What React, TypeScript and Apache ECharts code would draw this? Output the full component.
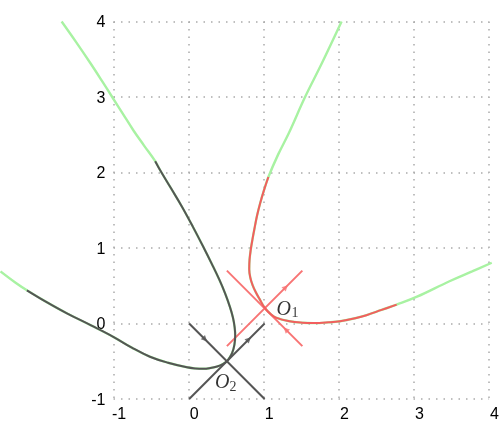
import React, { useEffect, useRef } from "react";
import * as echarts from "echarts";

// Axis ticks
const xTicks = [-1, 0, 1, 2, 3, 4];
const yTicks = [-1, 0, 1, 2, 3, 4];
// Full horizontal extent reached by the curves (left page edge)
const xCurveMin = -2.5;

// Curve through O2 (dark) with light-green continuation tails
const o2UpperTail: number[][] = [
  [-1.69, 4.0], [-1.5, 3.73], [-1.31, 3.45], [-1.16, 3.22], [-1.02, 3.0], [-0.88, 2.78],
  [-0.74, 2.56], [-0.6, 2.36], [-0.45, 2.15],
];
const o2Curve: number[][] = [
  [-0.45, 2.15], [-0.384, 2.03], [-0.24, 1.79], [-0.097, 1.55], [0.05, 1.28], [0.19, 1.01],
  [0.3, 0.79], [0.4, 0.58], [0.48, 0.39], [0.54, 0.22], [0.58, 0.08], [0.603, -0.05],
  [0.61, -0.16], [0.6, -0.28], [0.57, -0.39], [0.53, -0.46], [0.5, -0.5], [0.44, -0.54],
  [0.37, -0.57], [0.28, -0.59], [0.19, -0.6], [0.08, -0.595], [-0.03, -0.58], [-0.28, -0.52],
  [-0.52, -0.44], [-0.76, -0.32], [-1.0, -0.18], [-1.3, -0.025], [-1.62, 0.135],
  [-1.9, 0.29], [-2.15, 0.44],
];
const o2LowerTail: number[][] = [[-2.15, 0.44], [-2.3, 0.54], [-2.5, 0.69]];

// Curve through O1 (red) with light-green continuation tails
const o1UpperTail: number[][] = [
  [2.02, 4.0], [1.76, 3.45], [1.536, 3.0], [1.32, 2.52], [1.18, 2.24], [1.05, 1.94],
];
const o1Curve: number[][] = [
  [1.05, 1.94], [0.99, 1.76], [0.94, 1.59], [0.9, 1.43], [0.87, 1.28], [0.84, 1.12],
  [0.815, 0.97], [0.8, 0.84], [0.796, 0.72], [0.81, 0.61], [0.84, 0.51], [0.88, 0.42],
  [0.935, 0.32], [1.0, 0.21], [1.08, 0.125], [1.15, 0.078], [1.33, 0.03], [1.5, 0.01],
  [1.65, 0.005], [1.85, 0.015], [2.0, 0.03], [2.2, 0.07], [2.35, 0.11], [2.55, 0.18],
  [2.75, 0.25],
];
const o1LowerTail: number[][] = [[2.75, 0.25], [3.02, 0.355], [3.45, 0.56], [3.75, 0.69], [4.01, 0.805]];

// Saddle points and their manifold crosses
const O1 = [1, 0.2];
const O2 = [0.5, -0.5];
const o1CrossA: number[][] = [[0.5, -0.3], [1.5, 0.7]];
const o1CrossB: number[][] = [[0.5, 0.7], [1.5, -0.3]];
const o2CrossA: number[][] = [[0, 0], [1, -1]];
const o2CrossB: number[][] = [[0, -1], [1, 0]];

// Arrow markers on the crosses: [x, y, rotation]
const o2Arrows: number[][] = [[0.21, -0.21, -135], [0.79, -0.21, -45]];
const o1Arrows: number[][] = [[1.28, 0.48, -45], [1.28, -0.08, 45]];

const GREEN = "#a8f2a2";
const RED = "#f25e5e";
const RED_LIGHT = "#f87474";
const GRAY = "#555555";

export default function App() {
  const ref = useRef<HTMLDivElement>(null);
  useEffect(() => {
    if (!ref.current) return;
    const chart = echarts.init(ref.current, undefined, { renderer: "svg" });
    const onCurveAxes = { xAxisIndex: 1, yAxisIndex: 1 };
    const lineBase = (data: number[][], color: string, width: number, z: number) => ({
      type: "line",
      ...onCurveAxes,
      data,
      smooth: 0.4,
      showSymbol: false,
      symbol: "none",
      clip: false,
      z,
      lineStyle: { color, width },
      silent: true,
    });
    const straight = (data: number[][], color: string) => ({
      type: "line",
      ...onCurveAxes,
      data,
      showSymbol: false,
      symbol: "none",
      clip: false,
      z: 5,
      lineStyle: { color, width: 2 },
      silent: true,
    });
    const serif = "'Liberation Serif', 'DejaVu Serif', serif";
    const label = (text: string, pos: number[], size: number, italic: boolean) => ({
      show: true,
      formatter: text,
      position: pos,
      fontFamily: serif,
      fontStyle: italic ? "italic" : "normal",
      fontSize: size,
      color: "#000",
    });
    const labelFont = "'Liberation Sans', Arial, sans-serif";
    const dotted = { show: true, lineStyle: { color: "#aaaaaa", width: 1.5, type: [1.5, 6] } };
    chart.setOption({
      animation: false,
      grid: [
        { left: 113.5, right: 11, top: 21.5, bottom: 24, containLabel: false },
        { left: 0.5, right: 11, top: 21.5, bottom: 24, containLabel: false },
      ],
      xAxis: [
        {
          type: "value",
          gridIndex: 0,
          min: xTicks[0],
          max: xTicks[xTicks.length - 1],
          interval: 1,
          axisLine: { show: false },
          axisTick: { show: false },
          axisLabel: { margin: 6, fontSize: 16, color: "#000", fontFamily: labelFont, padding: [0, 0, 0, 11] },
          splitLine: dotted,
        },
        {
          type: "value",
          gridIndex: 1,
          min: xCurveMin,
          max: xTicks[xTicks.length - 1],
          show: false,
          splitLine: { show: false },
        },
      ],
      yAxis: [
        {
          type: "value",
          gridIndex: 0,
          min: yTicks[0],
          max: yTicks[yTicks.length - 1],
          interval: 1,
          axisLine: { show: false },
          axisTick: { show: false },
          axisLabel: { margin: 8, fontSize: 16, color: "#000", fontFamily: labelFont, padding: [0, 0, 4, 0] },
          splitLine: dotted,
        },
        {
          type: "value",
          gridIndex: 1,
          min: yTicks[0],
          max: yTicks[yTicks.length - 1],
          show: false,
          splitLine: { show: false },
        },
      ],
      series: [
        lineBase([...o2UpperTail, ...o2Curve.slice(1), ...o2LowerTail.slice(1)], GREEN, 2.4, 2),
        lineBase([...o1UpperTail, ...o1Curve.slice(1), ...o1LowerTail.slice(1)], GREEN, 2.4, 2),
        straight(o2CrossA, GRAY),
        straight(o2CrossB, GRAY),
        straight(o1CrossA, RED_LIGHT),
        straight(o1CrossB, RED_LIGHT),
        lineBase(o2Curve, GRAY, 2, 6),
        lineBase(o1Curve, RED, 2, 6),
        {
          type: "scatter",
          ...onCurveAxes,
          symbol: "triangle",
          symbolSize: 6,
          clip: false,
          z: 7,
          silent: true,
          itemStyle: { color: GRAY },
          data: o2Arrows.map((a) => ({ value: [a[0], a[1]], symbolRotate: a[2] })),
        },
        {
          type: "scatter",
          ...onCurveAxes,
          symbol: "triangle",
          symbolSize: 6,
          clip: false,
          z: 7,
          silent: true,
          itemStyle: { color: RED_LIGHT },
          data: o1Arrows.map((a) => ({ value: [a[0], a[1]], symbolRotate: a[2] })),
        },
        {
          type: "scatter",
          ...onCurveAxes,
          symbolSize: 0,
          clip: false,
          z: 8,
          silent: true,
          itemStyle: { color: "transparent" },
          data: [
            { value: O1, label: label("O", [12, -10], 20, true) },
            { value: O1, label: label("1", [27, -3], 14, false) },
            { value: O2, label: label("O", [-12, 10], 20, true) },
            { value: O2, label: label("2", [2.5, 18], 14, false) },
          ],
        },
      ],
    });
    return () => chart.dispose();
  }, []);
  return <div ref={ref} style={{ position: "fixed", left: 0, top: 0, width: 502, height: 423 }} />;
}
